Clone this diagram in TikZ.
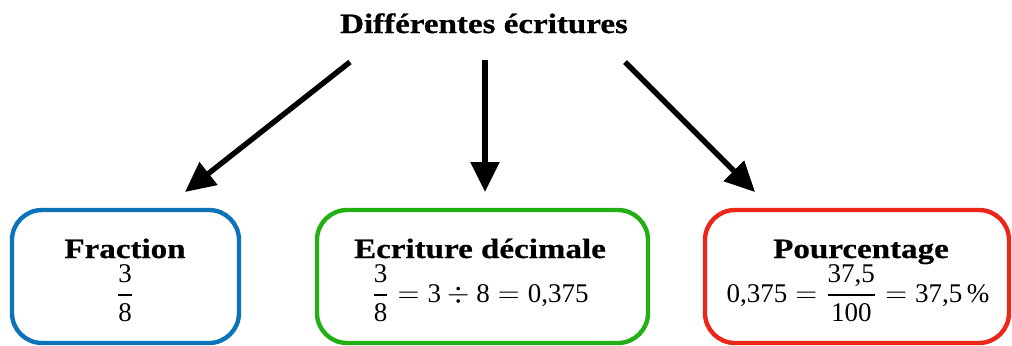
\documentclass[tikz,border=0pt]{standalone}
\usepackage{amsmath}
\usepackage{fontspec}
\setmainfont{Liberation Serif}
\newfontfamily\headfont[FakeStretch=1.18,FakeBold=0.6]{Liberation Serif}
\usetikzlibrary{arrows.meta}
\definecolor{cblue}{RGB}{12,115,185}
\definecolor{cgreen}{RGB}{34,176,20}
\definecolor{cred}{RGB}{236,38,24}
\newcommand{\myfrac}[2]{\genfrac{}{}{1.1pt}{0}{\text{#1}}{\text{#2}}}
\begin{document}
\begin{tikzpicture}[x=0.5pt,y=-0.5pt,
  arr/.style={line width=2.7pt,-{Triangle[length=15pt,width=14pt]}},
  box/.style={draw=#1,line width=2.2pt,rounded corners=15pt,inner sep=0pt,minimum height=66.5pt},
  head/.style={font=\headfont\bfseries\fontsize{14}{16}\selectfont,inner sep=0pt},
  eq/.style={font=\fontsize{13.5}{16}\selectfont,inner sep=0pt}]
\useasboundingbox (0,0) rectangle (1012,345);
\node[head,anchor=base] (title) at (484,33) {Différentes écritures};
% boxes
\node[box=cblue,minimum width=113.5pt] (b1) at (125.5,276.5) {};
\node[box=cgreen,minimum width=165.5pt] (b2) at (482.5,276.5) {};
\node[box=cred,minimum width=152pt] (b3) at (857,276.5) {};
% texts
\node[head,anchor=base] (h1) at (125,258) {Fraction};
\node[eq,anchor=base] (e1) at (125,302) {$\myfrac{3}{8}$};
\node[head,anchor=base] (h2) at (480,258) {Ecriture décimale};
\node[eq,anchor=base] (e2) at (480,302) {$\myfrac{3}{8}=\text{3}\div\text{8}=\text{0,375}$};
\node[head,anchor=base] (h3) at (861,258) {Pourcentage};
\node[eq,anchor=base] (e3) at (858,302) {$\text{0,375}=\myfrac{37,5}{100}=\text{37,5\,\%}$};
% arrows
\coordinate (s1) at (350,62);
\coordinate (t1) at (185,192);
\coordinate (s2) at (485,60);
\coordinate (t2) at (485,192);
\coordinate (s3) at (625,62);
\coordinate (t3) at (755,192);
\draw[arr] (s1) -- (t1);
\draw[arr] (s2) -- (t2);
\draw[arr] (s3) -- (t3);
\end{tikzpicture}
\end{document}
